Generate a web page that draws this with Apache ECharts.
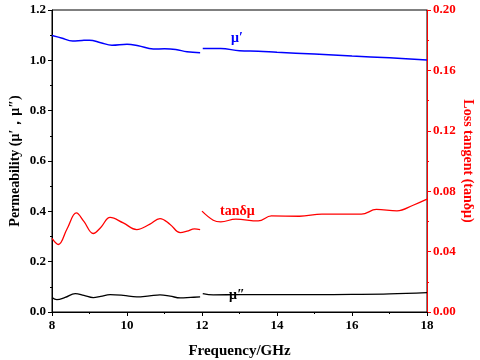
<!DOCTYPE html>
<html>
<head>
<meta charset="utf-8">
<script src="https://cdn.jsdelivr.net/npm/echarts@6/dist/echarts.min.js"></script>
<style>
  html, body { margin: 0; padding: 0; background: #fff; }
  #chart { width: 480px; height: 360px; }
</style>
</head>
<body>
<div id="chart"></div>
<script>
// frequency (GHz) and values, null = break at 12 GHz
const freqReal = [8.0, 8.25, 8.55, 8.8, 9.0, 9.3, 9.6, 10.0, 10.3, 10.7, 11.0, 11.3, 11.6, 11.95, 12.0, 12.02, 12.5, 13.0, 13.5, 14.0, 15.0, 16.0, 17.0, 18.0]
const muReal = [1.099, 1.089, 1.077, 1.079, 1.080, 1.070, 1.060, 1.064, 1.058, 1.045, 1.046, 1.043, 1.034, 1.030, null, 1.047, 1.047, 1.038, 1.036, 1.032, 1.025, 1.017, 1.010, 1.001]

const freqImag = [8.0, 8.13, 8.35, 8.62, 8.85, 9.1, 9.3, 9.55, 9.9, 10.26, 10.6, 10.88, 11.15, 11.42, 11.7, 11.95, 12.0, 12.02, 12.3, 13.0, 14.0, 15.0, 16.0, 17.0, 18.0]
const muImag = [0.057, 0.049, 0.058, 0.073, 0.066, 0.057, 0.062, 0.069, 0.066, 0.060, 0.064, 0.068, 0.063, 0.056, 0.058, 0.060, null, 0.073, 0.068, 0.069, 0.069, 0.069, 0.070, 0.072, 0.077]

const freqTan = [8.0, 8.17, 8.4, 8.65, 8.85, 9.1, 9.3, 9.55, 9.9, 10.26, 10.6, 10.88, 11.15, 11.42, 11.6, 11.8, 11.95, 11.98, 12.0, 12.3, 12.5, 12.9, 13.5, 13.85, 14.6, 15.2, 16.25, 16.65, 17.2, 17.63, 18.0]
const tanDelta = [0.0487, 0.0447, 0.055, 0.0656, 0.060, 0.052, 0.056, 0.0626, 0.059, 0.0546, 0.058, 0.0619, 0.058, 0.0526, 0.0535, 0.0550, 0.0546, null, 0.0668, 0.0608, 0.0597, 0.0615, 0.0603, 0.0636, 0.0634, 0.0648, 0.0648, 0.0679, 0.067, 0.0707, 0.0747]

const zip = (xs, ys) => xs.map((x, i) => [x, ys[i] === null ? '-' : ys[i]])
const font = 'Liberation Serif, Times New Roman, serif'

let chart = echarts.init(document.getElementById('chart'))
let option = {
  animation: false,
  grid: {
    left: 52, right: 53, top: 10, bottom: 48,
    containLabel: false, outerBoundsMode: 'none',
    show: true, borderColor: '#000', borderWidth: 1
  },
  xAxis: {
    type: 'value', min: 8, max: 18, interval: 2,
    name: 'Frequency/GHz', nameLocation: 'middle', nameGap: 32,
    nameTextStyle: { fontFamily: font, fontWeight: 'bold', fontSize: 15, color: '#000' },
    axisLine: { lineStyle: { color: '#000' } },
    axisTick: { length: 4, lineStyle: { color: '#000' } },
    minorTick: { show: true, splitNumber: 2, length: 2, lineStyle: { color: '#000' } },
    axisLabel: { fontFamily: font, fontWeight: 'bold', fontSize: 13, color: '#000', margin: 7 },
    splitLine: { show: false }
  },
  yAxis: [
    {
      type: 'value', min: 0, max: 1.2, interval: 0.2, position: 'left',
      name: 'Permeability (μ′，μ″)', nameLocation: 'middle', nameGap: 30, nameMoveOverlap: false,
      nameTextStyle: { fontFamily: font, fontWeight: 'bold', fontSize: 14, color: '#000' },
      axisLine: { show: true, lineStyle: { color: '#000' } },
      axisTick: { length: 4, lineStyle: { color: '#000' } },
      minorTick: { show: true, splitNumber: 2, length: 2, lineStyle: { color: '#000' } },
      axisLabel: { fontFamily: font, fontWeight: 'bold', fontSize: 13, color: '#000', margin: 6, formatter: v => v.toFixed(1) },
      splitLine: { show: false }
    },
    {
      type: 'value', min: 0, max: 0.2, interval: 0.04, position: 'right',
      name: 'Loss tangent (tanδμ)', nameLocation: 'middle', nameGap: 34, nameRotate: -90, nameMoveOverlap: false,
      nameTextStyle: { fontFamily: font, fontWeight: 'bold', fontSize: 14, color: '#f00' },
      axisLine: { show: true, lineStyle: { color: '#f00' } },
      axisTick: { length: 4, lineStyle: { color: '#f00' } },
      minorTick: { show: true, splitNumber: 2, length: 2, lineStyle: { color: '#f00' } },
      axisLabel: { fontFamily: font, fontWeight: 'bold', fontSize: 13, color: '#f00', margin: 6, formatter: v => v.toFixed(2) },
      splitLine: { show: false }
    }
  ],
  series: [
    {
      name: 'μ′', type: 'line', yAxisIndex: 0, data: zip(freqReal, muReal),
      smooth: 0.4, showSymbol: false, connectNulls: false,
      lineStyle: { color: '#0000ff', width: 1.5 }
    },
    {
      name: 'μ″', type: 'line', yAxisIndex: 0, data: zip(freqImag, muImag),
      smooth: 0.4, showSymbol: false, connectNulls: false,
      lineStyle: { color: '#000', width: 1.3 }
    },
    {
      name: 'tanδμ', type: 'line', yAxisIndex: 1, data: zip(freqTan, tanDelta),
      smooth: 0.4, showSymbol: false, connectNulls: false,
      lineStyle: { color: '#ff0000', width: 1.3 }
    }
  ],
  graphic: [
    { type: 'text', left: 231, top: 31, style: { text: 'μ′', fill: '#0000ff', font: 'bold 14px ' + font } },
    { type: 'text', left: 220, top: 204, style: { text: 'tanδμ', fill: '#ff0000', font: 'bold 14px ' + font } },
    { type: 'text', left: 229, top: 288, style: { text: 'μ″', fill: '#000', font: 'bold 14px ' + font } }
  ]
}
chart.setOption(option)
</script>
</body>
</html>
